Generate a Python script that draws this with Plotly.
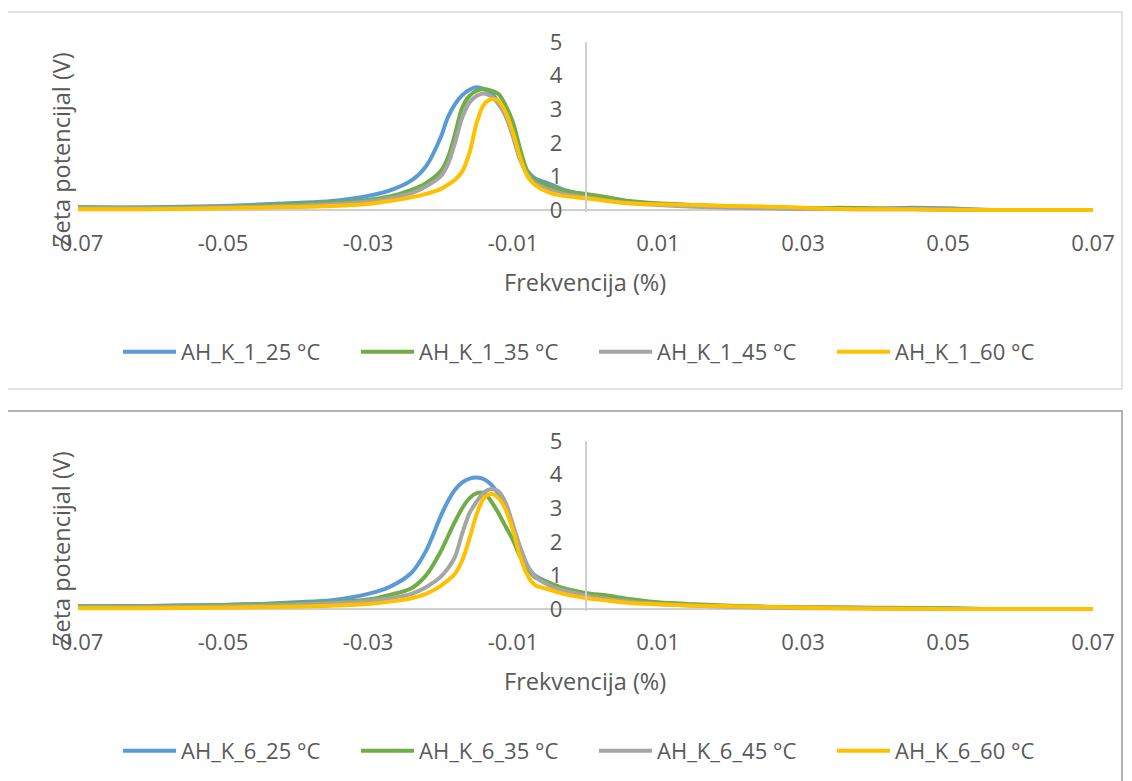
import plotly.graph_objects as go

# ---------------- data ----------------
frekvencija = [-0.07, -0.06, -0.05, -0.045, -0.04, -0.035, -0.03, -0.027, -0.024, -0.022,
               -0.020, -0.019, -0.018, -0.017, -0.016, -0.015, -0.014, -0.013, -0.012, -0.011,
               -0.010, -0.009, -0.008, -0.007, -0.005, -0.003, 0.0, 0.003, 0.006, 0.01,
               0.015, 0.02, 0.025, 0.03, 0.035, 0.04, 0.045, 0.05, 0.055, 0.06, 0.07]

k1_25 = [0.08, 0.08, 0.12, 0.16, 0.21, 0.27, 0.42, 0.58, 0.88, 1.3,
         2.15, 2.75, 3.15, 3.42, 3.58, 3.65, 3.6, 3.48, 3.2, 2.8,
         2.2, 1.5, 1.15, 0.95, 0.78, 0.6, 0.45, 0.33, 0.25, 0.18,
         0.13, 0.1, 0.08, 0.05, 0.04, 0.04, 0.07, 0.05, 0.01, 0.0, 0.0]
k1_35 = [0.08, 0.07, 0.1, 0.13, 0.18, 0.22, 0.3, 0.4, 0.6, 0.8,
         1.15, 1.55, 2.25, 3.05, 3.4, 3.55, 3.6, 3.55, 3.45, 3.1,
         2.6, 1.8, 1.15, 0.9, 0.72, 0.57, 0.48, 0.38, 0.27, 0.2,
         0.15, 0.1, 0.07, 0.05, 0.07, 0.05, 0.03, 0.02, 0.0, 0.0, 0.0]
k1_45 = [0.05, 0.05, 0.08, 0.1, 0.13, 0.17, 0.25, 0.35, 0.5, 0.7,
         1.0, 1.35, 2.0, 2.75, 3.2, 3.4, 3.47, 3.38, 3.15, 2.8,
         2.2, 1.5, 1.05, 0.8, 0.6, 0.48, 0.38, 0.28, 0.2, 0.15,
         0.1, 0.07, 0.05, 0.03, 0.03, 0.02, 0.02, 0.01, 0.0, 0.0, 0.0]
k1_60 = [0.02, 0.02, 0.05, 0.07, 0.09, 0.12, 0.18, 0.27, 0.38, 0.48,
         0.62, 0.75, 0.9, 1.15, 1.7, 2.6, 3.15, 3.3, 3.25, 2.9,
         2.3, 1.55, 1.0, 0.75, 0.52, 0.42, 0.35, 0.27, 0.2, 0.17,
         0.15, 0.12, 0.1, 0.07, 0.03, 0.02, 0.02, 0.01, 0.0, 0.0, 0.0]

k6_25 = [0.08, 0.09, 0.12, 0.15, 0.2, 0.26, 0.45, 0.66, 1.08, 1.73,
         2.75, 3.2, 3.55, 3.77, 3.88, 3.91, 3.86, 3.7, 3.42, 3.0,
         2.45, 1.66, 1.25, 1.0, 0.78, 0.6, 0.42, 0.32, 0.24, 0.17,
         0.12, 0.08, 0.06, 0.04, 0.03, 0.03, 0.03, 0.02, 0.0, 0.0, 0.0]
k6_35 = [0.08, 0.09, 0.12, 0.14, 0.17, 0.2, 0.28, 0.42, 0.62, 1.0,
         1.7, 2.15, 2.6, 3.0, 3.3, 3.45, 3.45, 3.2, 2.85, 2.45,
         2.05, 1.55, 1.2, 0.95, 0.78, 0.62, 0.48, 0.4, 0.3, 0.2,
         0.14, 0.1, 0.07, 0.05, 0.05, 0.04, 0.03, 0.02, 0.0, 0.0, 0.0]
k6_45 = [0.05, 0.06, 0.08, 0.1, 0.13, 0.17, 0.24, 0.32, 0.45, 0.65,
         0.95, 1.2, 1.55, 2.25, 2.85, 3.2, 3.47, 3.57, 3.5, 3.15,
         2.5, 1.84, 1.3, 0.98, 0.7, 0.55, 0.4, 0.3, 0.22, 0.15,
         0.1, 0.07, 0.04, 0.02, 0.02, 0.02, 0.01, 0.01, 0.0, 0.0, 0.0]
k6_60 = [0.02, 0.02, 0.04, 0.05, 0.07, 0.1, 0.15, 0.22, 0.32, 0.45,
         0.68, 0.85, 1.05, 1.45, 2.1, 2.83, 3.3, 3.42, 3.3, 2.95,
         2.34, 1.55, 1.0, 0.72, 0.58, 0.45, 0.33, 0.25, 0.18, 0.14,
         0.1, 0.08, 0.06, 0.04, 0.02, 0.01, 0.01, 0.0, 0.0, 0.0, 0.0]

temperature = ["25 °C", "35 °C", "45 °C", "60 °C"]
x_ticks = [-0.07, -0.05, -0.03, -0.01, 0.01, 0.03, 0.05, 0.07]
x_title = "Frekvencija (%)"
y_title = "Zeta potencijal (V)"

# ---------------- style ----------------
W, H = 1132, 781
PAGE_OFF = 8  # default body margin of the html page
colors = ["#5B9BD5", "#70AD47", "#A5A5A5", "#FFC000"]
FONT = "Open Sans"
TXT = "#595959"
AX = "#D0D0D0"
TICK_SIZE = 22
TITLE_SIZE = 23.5


def fx(p):
    return (p - PAGE_OFF) / W


def fy(p):
    return 1 - (p - PAGE_OFF) / H


fig = go.Figure()

panels = [
    ("AH_K_1_", [k1_25, k1_35, k1_45, k1_60], "x", "y", "legend", 0),
    ("AH_K_6_", [k6_25, k6_35, k6_45, k6_60], "x2", "y2", "legend2", 399),
]

for prefix, series, xa, ya, lg, off in panels:
    for ys, t, c in zip(series, temperature, colors):
        fig.add_trace(go.Scatter(
            x=frekvencija, y=ys, mode="lines", name=prefix + t,
            line=dict(color=c, width=4, shape="spline", smoothing=0.9),
            xaxis=xa, yaxis=ya, legend=lg, hoverinfo="skip"))

layout = dict(
    width=W, height=H,
    margin=dict(l=0, r=0, t=0, b=0, autoexpand=False),
    paper_bgcolor="white", plot_bgcolor="rgba(0,0,0,0)",
    font=dict(family=FONT, size=TICK_SIZE, color=TXT),
    showlegend=True,
)

ymin = -0.07
unit = (210 - 42) / 5.0
shapes = []
annotations = []
for prefix, series, xa, ya, lg, off in panels:
    xk = "xaxis" if xa == "x" else "xaxis2"
    yk = "yaxis" if ya == "y" else "yaxis2"
    top = 42 + off
    bottom = 210 + off - ymin * unit
    layout[xk] = dict(
        domain=[fx(78), fx(1093)], range=[-0.07, 0.07], anchor=ya,
        tickvals=x_ticks, ticktext=[f"{v:.2f}" for v in x_ticks],
        showline=False, showgrid=False, zeroline=False,
        ticks="outside", ticklen=11, tickcolor="rgba(0,0,0,0)",
        tickfont=dict(family=FONT, size=TICK_SIZE, color=TXT), fixedrange=True)
    layout[yk] = dict(
        domain=[fy(bottom), fy(top)], range=[ymin, 5], anchor="free",
        position=fx(585.5), tickvals=[0, 1, 2, 3, 4, 5],
        showline=True, linecolor=AX, linewidth=1.5, showgrid=False,
        zeroline=True, zerolinecolor=AX, zerolinewidth=1.5,
        ticks="outside", ticklen=18, tickcolor="rgba(0,0,0,0)",
        tickfont=dict(family=FONT, size=TICK_SIZE, color=TXT), fixedrange=True)
    layout[lg] = dict(
        orientation="h", x=fx(118), y=fy(352 + off), xanchor="left", yanchor="middle",
        entrywidth=170, entrywidthmode="pixels", itemwidth=53,
        font=dict(family=FONT, size=TICK_SIZE, color=TXT), bgcolor="rgba(0,0,0,0)")
    annotations.append(dict(
        text=x_title, x=fx(585), y=fy(282 + off), xref="paper", yref="paper",
        xanchor="center", yanchor="middle",
        showarrow=False, font=dict(family=FONT, size=TITLE_SIZE, color=TXT)))
    annotations.append(dict(
        text=y_title, x=fx(61), y=fy(150 + off), xref="paper", yref="paper",
        xanchor="center", yanchor="middle",
        showarrow=False, textangle=-90, font=dict(family=FONT, size=TITLE_SIZE, color=TXT)))

shapes.append(dict(type="rect", xref="paper", yref="paper", x0=fx(7), x1=fx(1122),
                   y0=fy(389), y1=fy(12), line=dict(color="#D9D9D9", width=1.5),
                   layer="below"))
shapes.append(dict(type="rect", xref="paper", yref="paper", x0=fx(7), x1=fx(1122),
                   y0=fy(800), y1=fy(411), line=dict(color="#9A9A9A", width=1.5),
                   layer="below"))
layout["shapes"] = shapes
layout["annotations"] = annotations

fig.update_layout(**layout)
fig.write_html("out.html")
